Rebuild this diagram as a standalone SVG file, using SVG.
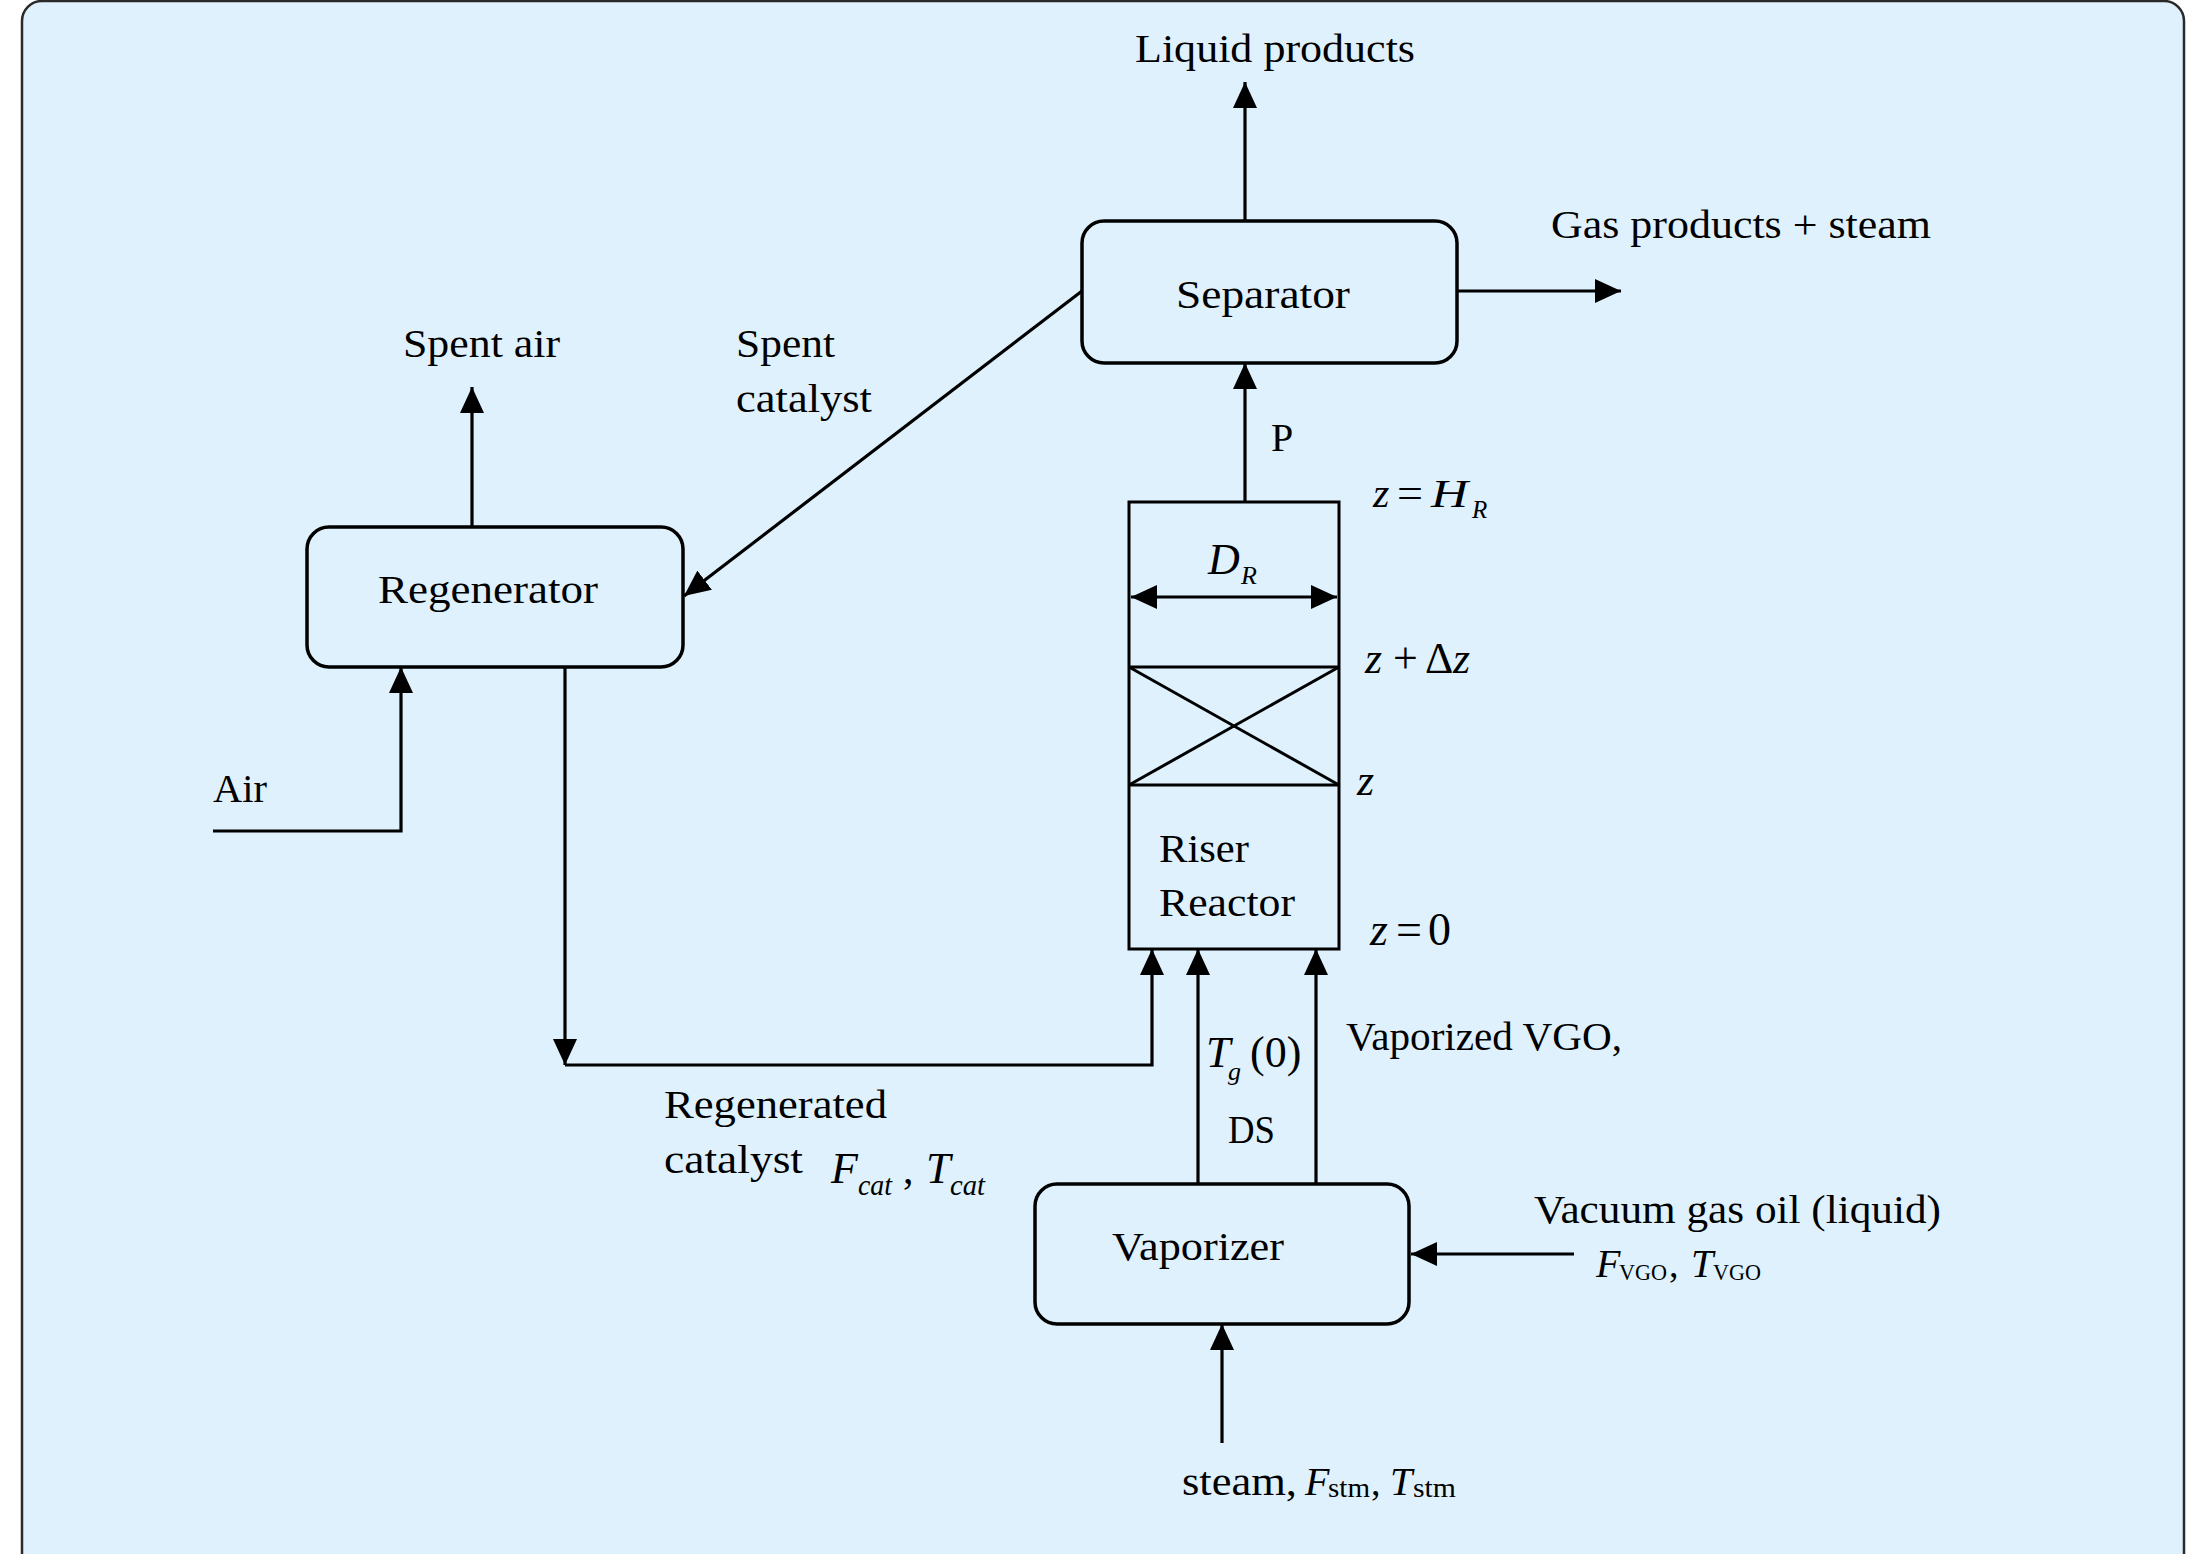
<svg xmlns="http://www.w3.org/2000/svg" width="2197" height="1554" viewBox="0 0 2197 1554">
<defs>
<marker id="ah" viewBox="0 0 26 24" markerWidth="26" markerHeight="24" refX="26" refY="12" orient="auto" markerUnits="userSpaceOnUse">
<path d="M0,0 L26,12 L0,24 Z" fill="#000"/>
</marker>
<marker id="ahs" viewBox="0 0 26 24" markerWidth="26" markerHeight="24" refX="26" refY="12" orient="auto-start-reverse" markerUnits="userSpaceOnUse">
<path d="M0,0 L26,12 L0,24 Z" fill="#000"/>
</marker>
<style>
.box{fill:none;stroke:#000;stroke-width:3.5}
.ln{fill:none;stroke:#000;stroke-width:3}
.arr{fill:none;stroke:#000;stroke-width:3.2;marker-end:url(#ah)}
.t{font-family:"Liberation Serif","Times New Roman",serif;font-size:40px;fill:#000}
.m{font-family:"Liberation Serif","Times New Roman",serif;font-size:44px;fill:#000}
.i{font-style:italic}
.s{font-size:26px}
</style>
</defs>
<rect x="0" y="0" width="2197" height="1554" fill="#fff"/>
<rect id="panel" x="22" y="1" width="2162" height="1620" rx="20" ry="20" fill="#DFF1FC" stroke="#2a2a2a" stroke-width="2.5"/>

<g id="connectors">
<line class="arr" x1="1245" y1="221" x2="1245" y2="82"/>
<line class="arr" x1="1457" y1="291" x2="1621" y2="291"/>
<line class="arr" x1="1245" y1="502" x2="1245" y2="363"/>
<line class="arr" x1="1082" y1="291" x2="684" y2="596"/>
<line class="arr" x1="472" y1="527" x2="472" y2="387"/>
<polyline class="arr" points="213,831 401,831 401,667"/>
<line class="arr" x1="565" y1="667" x2="565" y2="1065"/>
<polyline class="arr" points="565,1065 1152,1065 1152,949"/>
<line class="arr" x1="1198" y1="1184" x2="1198" y2="949"/>
<line class="arr" x1="1316" y1="1184" x2="1316" y2="949"/>
<line class="arr" x1="1574" y1="1254" x2="1411" y2="1254"/>
<line class="arr" x1="1222" y1="1443" x2="1222" y2="1324"/>
</g>

<g id="separator">
<rect class="box" x="1082" y="221" width="375" height="142" rx="22" ry="22"/>
<text class="t" x="1176" y="308" textLength="174" lengthAdjust="spacingAndGlyphs">Separator</text>
</g>

<g id="regenerator">
<rect class="box" x="307" y="527" width="376" height="140" rx="22" ry="22"/>
<text class="t" x="378" y="603" textLength="220" lengthAdjust="spacingAndGlyphs">Regenerator</text>
</g>

<g id="riser">
<rect class="ln" x="1129" y="502" width="210" height="447"/>
<line class="ln" x1="1129" y1="667" x2="1339" y2="667"/>
<line class="ln" x1="1129" y1="785" x2="1339" y2="785"/>
<line class="ln" x1="1129" y1="667" x2="1339" y2="785"/>
<line class="ln" x1="1129" y1="785" x2="1339" y2="667"/>
<line class="ln" x1="1131" y1="597" x2="1337" y2="597" marker-start="url(#ahs)" marker-end="url(#ah)"/>
<text class="m i" x="1208" y="574">D</text>
<text class="m i s" x="1241" y="584">R</text>
<text class="t" x="1159" y="862" textLength="90" lengthAdjust="spacingAndGlyphs">Riser</text>
<text class="t" x="1159" y="916" textLength="136" lengthAdjust="spacingAndGlyphs">Reactor</text>
</g>

<g id="vaporizer">
<rect class="box" x="1035" y="1184" width="374" height="140" rx="22" ry="22"/>
<text class="t" x="1112" y="1260" textLength="172" lengthAdjust="spacingAndGlyphs">Vaporizer</text>
</g>

<g id="labels">
<text class="t" x="1135" y="62" textLength="280" lengthAdjust="spacingAndGlyphs">Liquid products</text>
<text class="t" x="1551" y="238" textLength="380" lengthAdjust="spacingAndGlyphs">Gas products + steam</text>
<text class="t" x="1271" y="451">P</text>
<text class="t" x="403" y="357" textLength="157" lengthAdjust="spacingAndGlyphs">Spent air</text>
<text class="t" x="736" y="357" textLength="99" lengthAdjust="spacingAndGlyphs">Spent</text>
<text class="t" x="736" y="412" textLength="136" lengthAdjust="spacingAndGlyphs">catalyst</text>
<text class="t" x="213" y="802" textLength="54" lengthAdjust="spacingAndGlyphs">Air</text>

<text class="m i" x="1373" y="507" style="font-size:42px">z</text>
<text class="m" x="1397" y="507" style="font-size:42px" textLength="26" lengthAdjust="spacingAndGlyphs">=</text>
<text class="m i" x="1431" y="507" style="font-size:40px" textLength="37" lengthAdjust="spacingAndGlyphs">H</text>
<text class="m i s" x="1472" y="518" style="font-size:25px">R</text>

<text class="m i" x="1365" y="673">z</text>
<text class="m" x="1393" y="673">+</text>
<text class="m" x="1425" y="673">Δ</text>
<text class="m i" x="1453" y="673">z</text>

<text class="m i" x="1357" y="795">z</text>

<text class="m i" x="1370" y="945" style="font-size:46px">z</text>
<text class="m" x="1396" y="945" style="font-size:46px">=</text>
<text class="m" x="1428" y="945" style="font-size:46px">0</text>

<text class="m i" x="1206" y="1067">T</text>
<text class="m i s" x="1228" y="1080">g</text>
<text class="m" x="1250" y="1067">(0)</text>
<text class="t" x="1228" y="1143" textLength="47" lengthAdjust="spacingAndGlyphs">DS</text>

<text class="t" x="1346" y="1050" textLength="276" lengthAdjust="spacingAndGlyphs">Vaporized VGO,</text>

<text class="t" x="664" y="1118" textLength="223" lengthAdjust="spacingAndGlyphs">Regenerated</text>
<text class="t" x="664" y="1173" textLength="139" lengthAdjust="spacingAndGlyphs">catalyst</text>
<text class="m i" x="831" y="1183" style="font-size:44px">F</text>
<text class="m i s" x="858" y="1195" style="font-size:29px" textLength="34" lengthAdjust="spacingAndGlyphs">cat</text>
<text class="m" x="903" y="1183" style="font-size:42px">,</text>
<text class="m i" x="926" y="1183" style="font-size:44px">T</text>
<text class="m i s" x="950" y="1195" style="font-size:29px" textLength="35" lengthAdjust="spacingAndGlyphs">cat</text>

<text class="t" x="1534" y="1223" textLength="407" lengthAdjust="spacingAndGlyphs">Vacuum gas oil (liquid)</text>
<text class="m i" x="1596" y="1277" style="font-size:40px">F</text>
<text class="t" x="1619" y="1280" style="font-size:23px" textLength="48" lengthAdjust="spacingAndGlyphs">VGO</text>
<text class="t" x="1669" y="1277" style="font-size:38px">,</text>
<text class="m i" x="1691" y="1277" style="font-size:40px">T</text>
<text class="t" x="1713" y="1280" style="font-size:23px" textLength="48" lengthAdjust="spacingAndGlyphs">VGO</text>

<text class="t" x="1182" y="1495" textLength="115" lengthAdjust="spacingAndGlyphs">steam,</text>
<text class="m i" x="1305" y="1495" style="font-size:40px">F</text>
<text class="t" x="1328" y="1497" style="font-size:27px" textLength="42" lengthAdjust="spacingAndGlyphs">stm</text>
<text class="t" x="1371" y="1495" style="font-size:38px">,</text>
<text class="m i" x="1390" y="1495" style="font-size:40px">T</text>
<text class="t" x="1413" y="1497" style="font-size:27px" textLength="43" lengthAdjust="spacingAndGlyphs">stm</text>
</g>
</svg>
